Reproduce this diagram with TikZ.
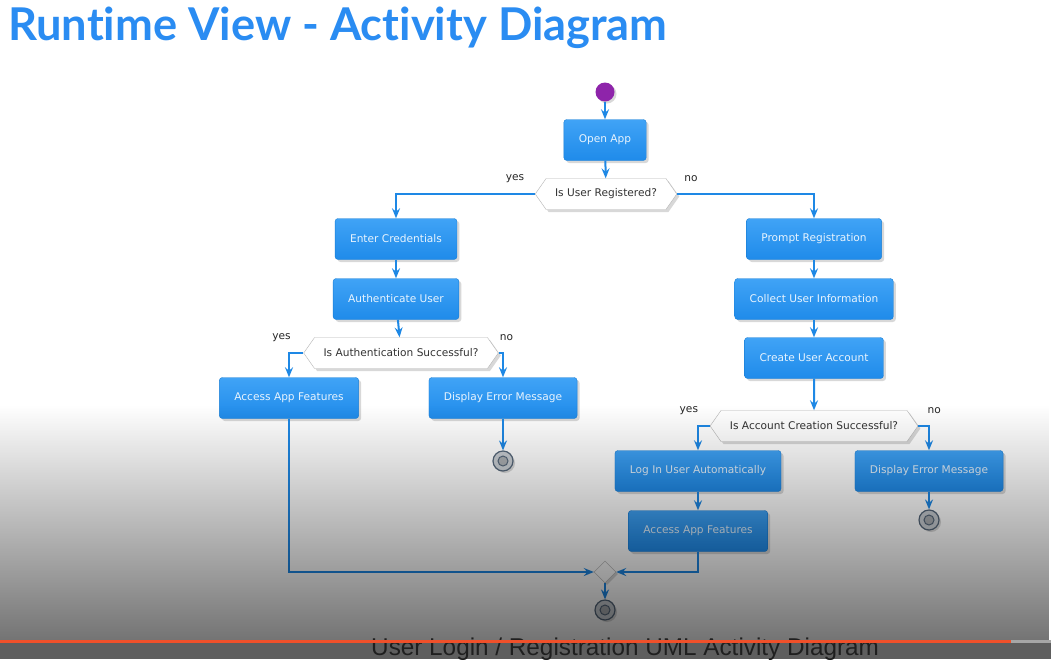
\documentclass[tikz,border=0pt]{standalone}
\usepackage{fontspec}
\setmainfont{DejaVu Sans}
\newfontfamily\titlefont{Lato}[Ligatures={NoCommon}]
\newfontfamily\capfont{Liberation Sans}
\usetikzlibrary{arrows.meta,shapes.geometric,shapes.symbols,shadows,fadings,calc}
\definecolor{boxtop}{HTML}{40A3F6}
\definecolor{boxbot}{HTML}{1F8BEA}
\definecolor{boxline}{HTML}{1A7FD6}
\definecolor{boxtext}{HTML}{E8F4FE}
\definecolor{flowblue}{HTML}{1E88E5}
\definecolor{titleblue}{HTML}{2A8CF2}
\definecolor{hexline}{HTML}{B5B5B5}
\definecolor{startpurple}{HTML}{8E24AA}
\definecolor{endfill}{HTML}{C8CDD2}
\definecolor{endline}{HTML}{56677A}
\definecolor{ytred}{HTML}{F0502A}
\tikzfading[name=darken, top color=transparent!100, bottom color=transparent!45]
\tikzset{
  boxnode/.style={draw=boxline, top color=boxtop, bottom color=boxbot, rounded corners=3pt,
    text=boxtext, font=\fontsize{10.6}{12}\selectfont, minimum height=41pt, inner xsep=15pt,
    drop shadow={shadow xshift=2.5pt, shadow yshift=-2.5pt, opacity=0.3}},
  decnode/.style={shape=signal, signal to=west and east, signal pointer angle=110,
    draw=hexline, fill=white, text=black!80, font=\fontsize{10.6}{12}\selectfont,
    minimum height=31pt, inner xsep=9pt,
    drop shadow={shadow xshift=2.5pt, shadow yshift=-2.5pt, opacity=0.3}},
  startnode/.style={circle, fill=startpurple, minimum size=19pt, inner sep=0pt,
    drop shadow={shadow xshift=2pt, shadow yshift=-2pt, opacity=0.3}},
  endnode/.style={circle, draw=endline, line width=1.2pt, fill=endfill, minimum size=20pt, inner sep=0pt,
    drop shadow={shadow xshift=2pt, shadow yshift=-2pt, opacity=0.3},
    path picture={\draw[endline, line width=1pt, fill=endfill!85!black]
      (path picture bounding box.center) circle[radius=5pt];}},
  mergenode/.style={diamond, draw=black!30, fill=white, minimum size=22pt, inner sep=0pt,
    drop shadow={shadow xshift=2pt, shadow yshift=-2pt, opacity=0.3}},
  flow/.style={draw=flowblue, line width=2pt, -{Stealth[length=10pt, width=8pt, inset=3.5pt]}},
  lab/.style={font=\fontsize{10.6}{12}\selectfont, text=black!85}
}
\begin{document}
\begin{tikzpicture}[x=1pt, y=-1pt]
\useasboundingbox (0,0) rectangle (1051,659);
\clip (0,0) rectangle (1051,659);
\fill[white] (0,0) rectangle (1051,659);

\node[anchor=base west, inner sep=0pt, text=titleblue, font=\titlefont\bfseries\fontsize{45.2}{50}\selectfont] (title) at (8,40) {Runtime View - Activity Diagram};

\node[startnode] (start) at (605,92) {};
\node[boxnode] (open) at (605,140) {Open App};
\node[decnode] (d1) at (606,194) {Is User Registered?};
\node[boxnode] (enter) at (396,239) {Enter Credentials};
\node[boxnode] (auth) at (396,299) {Authenticate User};
\node[decnode] (d2) at (401,353) {Is Authentication Successful?};
\node[boxnode] (acc1) at (289,398) {Access App Features};
\node[boxnode] (err1) at (503,398) {Display Error Message};
\node[endnode] (end1) at (503,461) {};
\node[boxnode] (prompt) at (814,239) {Prompt Registration};
\node[boxnode] (collect) at (814,299) {Collect User Information};
\node[boxnode] (create) at (814,358) {Create User Account};
\node[decnode] (d3) at (814,426) {Is Account Creation Successful?};
\node[boxnode] (login) at (698,471) {Log In User Automatically};
\node[boxnode] (acc2) at (698,531) {Access App Features};
\node[boxnode] (err2) at (929,471) {Display Error Message};
\node[endnode] (end2) at (929,520) {};
\node[mergenode] (m) at (605,572) {};
\node[endnode] (end3) at (605,610) {};

\node[lab] (y1) at ($(d1.west)+(-20,-15)$) {yes};
\node[lab] (n1) at ($(d1.east)+(14,-15)$) {no};
\node[lab] (y2) at ($(d2.west)+(-22,-15)$) {yes};
\node[lab] (n2) at ($(d2.east)+(8,-15)$) {no};
\node[lab] (y3) at ($(d3.west)+(-21,-15)$) {yes};
\node[lab] (n3) at ($(d3.east)+(16,-15)$) {no};

\draw[flow] (start) -- (open);
\draw[flow] (open) -- (d1);
\draw[flow] (d1.west) -| (enter.north);
\draw[flow] (d1.east) -| (prompt.north);
\draw[flow] (enter) -- (auth);
\draw[flow] (auth) -- (d2);
\draw[flow] (d2.west) -| (acc1.north);
\draw[flow] (d2.east) -| (err1.north);
\draw[flow] (err1) -- (end1);
\draw[flow] (prompt) -- (collect);
\draw[flow] (collect) -- (create);
\draw[flow] (create) -- (d3);
\draw[flow] (d3.west) -| (login.north);
\draw[flow] (d3.east) -| (err2.north);
\draw[flow] (login) -- (acc2);
\draw[flow] (err2) -- (end2);
\draw[flow] (acc1.south) |- (m.west);
\draw[flow] (acc2.south) |- (m.east);
\draw[flow] (m) -- (end3);

% video overlay darkening
\fill[black, path fading=darken] (0,405) rectangle (1051,641);
\fill[black, opacity=0.63] (0,641) rectangle (1051,659);

\node[anchor=base west, inner sep=0pt, text=black!88, font=\capfont\fontsize{24.3}{26}\selectfont] (cap) at (371,655) {User Login / Registration UML Activity Diagram};
\draw[ytred, line width=3pt] (0,641) -- (1011,641);
\draw[black!35, line width=3pt] (1011,641) -- (1051,641);
\end{tikzpicture}
\end{document}
